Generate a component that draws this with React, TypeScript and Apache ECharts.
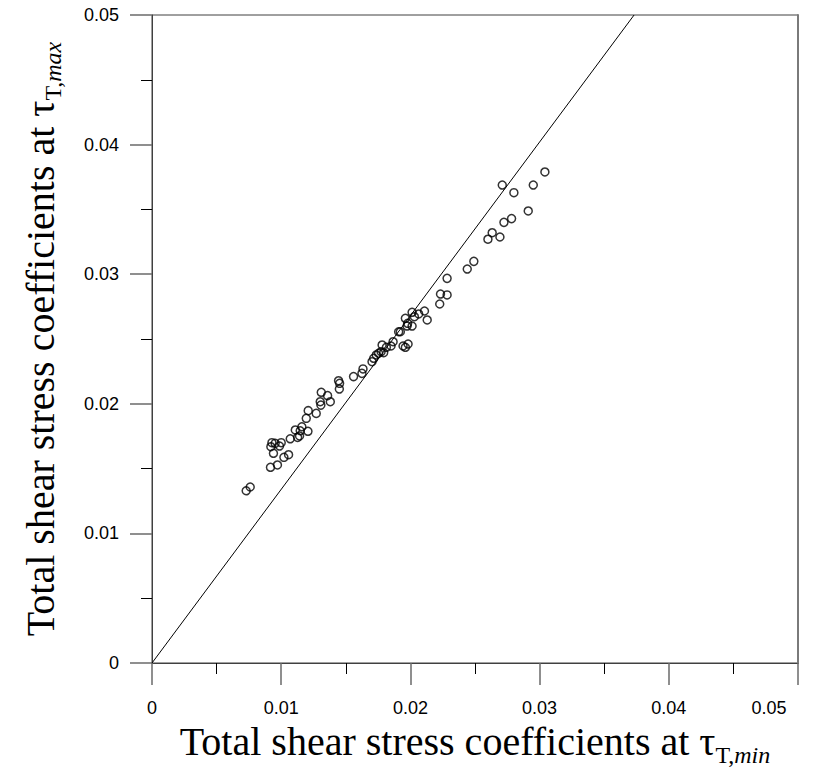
import React, { useEffect, useRef } from "react";
import * as echarts from "echarts";

const tauMin: number[] = [
  0.00729, 0.0076, 0.00917, 0.00971, 0.01021, 0.01057, 0.0094, 0.0092, 0.00928, 0.00953,
  0.00987, 0.01, 0.0107, 0.01109, 0.01127, 0.01142, 0.01147, 0.0116, 0.01194, 0.01207,
  0.01209, 0.01271, 0.0131, 0.01302, 0.01307, 0.01359, 0.0138, 0.01444, 0.01452, 0.0145,
  0.0156, 0.01625, 0.01633, 0.01703, 0.01716, 0.01736, 0.01754, 0.01773, 0.01793, 0.01781,
  0.01814, 0.0185, 0.01866, 0.01909, 0.01943, 0.01961, 0.01982, 0.02013, 0.01961, 0.02031,
  0.02064, 0.02109, 0.0213, 0.01979, 0.02013, 0.01974, 0.01922, 0.02227, 0.02233, 0.02284,
  0.02284, 0.0244, 0.02491, 0.026, 0.02633, 0.02693, 0.02724, 0.02783, 0.02711, 0.02801,
  0.02912, 0.02951, 0.03041,
];
const tauMax: number[] = [
  0.01329, 0.01358, 0.0151, 0.01528, 0.01587, 0.01607, 0.01618, 0.01669, 0.017, 0.01695,
  0.01674, 0.017, 0.0173, 0.01798, 0.01741, 0.01752, 0.01792, 0.01823, 0.01888, 0.01788,
  0.01947, 0.01926, 0.02089, 0.02016, 0.0199, 0.02063, 0.02016, 0.02178, 0.02158, 0.02114,
  0.0221, 0.02235, 0.02269, 0.02325, 0.02351, 0.02377, 0.0239, 0.02402, 0.02394, 0.02454,
  0.02436, 0.02446, 0.02479, 0.02556, 0.02446, 0.02436, 0.02461, 0.02706, 0.0266, 0.02672,
  0.02693, 0.02716, 0.02647, 0.02621, 0.026, 0.026, 0.02556, 0.0277, 0.02847, 0.0284,
  0.02968, 0.0304, 0.03099, 0.0327, 0.0332, 0.03287, 0.034, 0.03429, 0.03688, 0.03629,
  0.03488, 0.03688, 0.03789,
];
const lineSlope = 1.34;
const lineX: number[] = [0, 0.05 / lineSlope];
const axisMin = 0;
const axisMax = 0.05;
const axisStep = 0.01;

const serif = "'Liberation Serif', 'Times New Roman', serif";
const sans = "'Liberation Sans', Arial, sans-serif";

const richTitle = {
  m: { fontFamily: serif, fontSize: 40, lineHeight: 40, verticalAlign: "top", color: "#000" },
  s: { fontFamily: serif, fontSize: 24, lineHeight: 24, padding: [21, 0, 0, 0], verticalAlign: "top", color: "#000" },
  i: { fontFamily: serif, fontSize: 24, lineHeight: 24, padding: [21, 0, 0, 0], verticalAlign: "top", fontStyle: "italic", color: "#000" },
};

export default function App() {
  const ref = useRef<HTMLDivElement>(null);
  useEffect(() => {
    if (!ref.current) return;
    const chart = echarts.init(ref.current, null, { renderer: "svg" });
    const labelFmt = (v: number) => (v === 0 ? "0" : String(Number(v.toFixed(3))));
    const axisCommon = {
      type: "value",
      min: axisMin,
      max: axisMax,
      interval: axisStep,
      splitLine: { show: false },
      axisLine: { show: true, lineStyle: { color: "#404040", width: 1 } },
      axisTick: { show: true, inside: false, length: 22, lineStyle: { color: "#6a6a6a", width: 1.5 } },
      minorTick: { show: true, splitNumber: 2, length: 11, lineStyle: { color: "#000", width: 1 } },
    };
    chart.setOption({
      animation: false,
      backgroundColor: "#fff",
      grid: { left: 152, right: 25, top: 15, bottom: 111, show: true, borderColor: "#404040", borderWidth: 1 },
      xAxis: {
        ...axisCommon,
        axisLabel: {
          fontFamily: sans,
          fontSize: 18,
          color: "#000",
          margin: 36,
          formatter: (v: number) => (v === axisMax ? "{r|" + labelFmt(v) + "}" : labelFmt(v)),
          rich: { r: { fontFamily: sans, fontSize: 18, color: "#000", padding: [0, 58, 0, 0] } },
        },
        name: "{m|Total shear stress coefficients at τ}{s|T,}{i|min}",
        nameLocation: "middle",
        nameGap: 58,
        nameTextStyle: { rich: richTitle },
      },
      yAxis: [
        {
          ...axisCommon,
          axisLabel: { fontFamily: sans, fontSize: 18, color: "#000", margin: 33, formatter: labelFmt },
          name: "{m|Total shear stress coefficients at τ}{s|T,}{i|max}",
          nameLocation: "middle",
          nameGap: 92,
          nameRotate: 90,
          nameTextStyle: { rich: richTitle },
        },
        {
          type: "value",
          position: "right",
          min: axisMin,
          max: axisMax,
          interval: axisStep,
          splitLine: { show: false },
          axisTick: { show: false },
          axisLabel: { show: false },
          axisLine: { show: true, lineStyle: { color: "#7a7a7a", width: 2 } },
        },
      ],
      series: [
        {
          type: "line",
          data: lineX.map((x) => [x, x * lineSlope]),
          symbol: "none",
          lineStyle: { color: "#000", width: 1 },
          silent: true,
        },
        {
          type: "scatter",
          data: tauMin.map((x, i) => [x, tauMax[i]]),
          symbol: "circle",
          symbolSize: 8,
          itemStyle: { color: "rgba(255,255,255,0)", borderColor: "#000", borderWidth: 1.5 },
        },
      ],
    });
    return () => chart.dispose();
  }, []);
  return (
    <div
      ref={ref}
      style={{ position: "absolute", left: 0, top: 0, width: 823, height: 774, background: "#fff" }}
    />
  );
}
